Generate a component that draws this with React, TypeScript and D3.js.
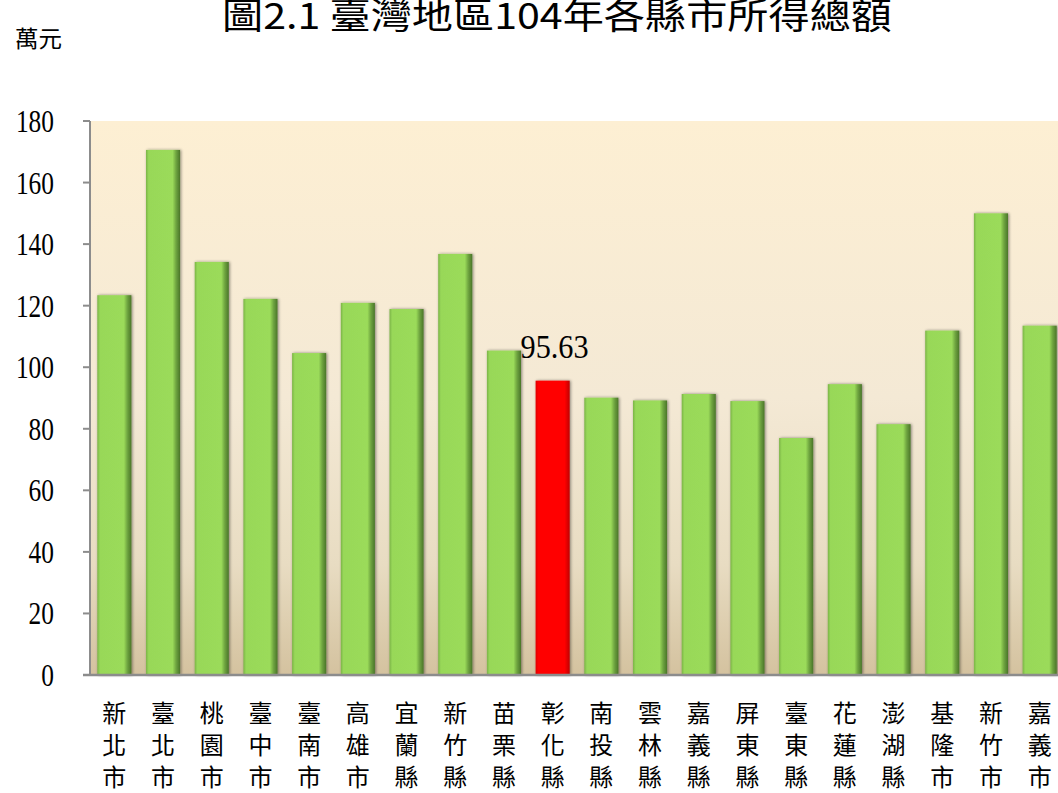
import React from "react";
import * as d3 from "d3";

const categories = [
  "新北市", "臺北市", "桃園市", "臺中市", "臺南市", "高雄市", "宜蘭縣", "新竹縣", "苗栗縣", "彰化縣",
  "南投縣", "雲林縣", "嘉義縣", "屏東縣", "臺東縣", "花蓮縣", "澎湖縣", "基隆市", "新竹市", "嘉義市",
];
const values = [
  123.4, 170.6, 134.2, 122.2, 104.6, 120.9, 118.9, 136.8, 105.4, 95.63,
  90.1, 89.2, 91.3, 89.0, 77.0, 94.5, 81.5, 111.9, 150.0, 113.5,
];
const highlight = "彰化縣";
const yTicks = [0, 20, 40, 60, 80, 100, 120, 140, 160, 180];
const title = "圖2.1 臺灣地區104年各縣市所得總額";
const unit = "萬元";

const W = 1058;
const H = 793;
const left = 90;
const top = 121;
const bottom = 675;
const step = 48.7;

export default function App() {
  const x = d3
    .scaleBand<string>()
    .domain(categories)
    .range([left, left + step * categories.length])
    .paddingInner(0.3)
    .paddingOuter(0.15);
  const y = d3.scaleLinear().domain([0, 180]).range([bottom, top]);
  const serif = "'Liberation Serif', 'DejaVu Serif', serif";
  const cjk = "'Noto Sans CJK TC', 'Noto Sans CJK JP', sans-serif";

  return (
    <svg
      width={W}
      height={H}
      style={{ position: "absolute", left: 0, top: 0, background: "#fff" }}
    >
      <defs>
        <linearGradient id="bg" x1="0" y1="0" x2="0" y2="1">
          <stop offset="0%" stopColor="#FDEFD3" />
          <stop offset="50%" stopColor="#F4E9D5" />
          <stop offset="80%" stopColor="#E8DCC2" />
          <stop offset="100%" stopColor="#D4C29F" />
        </linearGradient>
        <linearGradient id="green" x1="0" y1="0" x2="1" y2="0">
          <stop offset="0%" stopColor="#7BB447" />
          <stop offset="8%" stopColor="#98D859" />
          <stop offset="78%" stopColor="#9BDB5A" />
          <stop offset="88%" stopColor="#6FA540" />
          <stop offset="100%" stopColor="#4A7529" />
        </linearGradient>
        <linearGradient id="red" x1="0" y1="0" x2="1" y2="0">
          <stop offset="0%" stopColor="#E00000" />
          <stop offset="8%" stopColor="#FF0000" />
          <stop offset="85%" stopColor="#FF0000" />
          <stop offset="100%" stopColor="#C00000" />
        </linearGradient>
        <filter id="shadow" x="-20%" y="-5%" width="140%" height="110%">
          <feGaussianBlur in="SourceAlpha" stdDeviation="1.5" />
          <feOffset dx="1" dy="0" result="b" />
          <feComponentTransfer>
            <feFuncA type="linear" slope="0.45" />
          </feComponentTransfer>
          <feMerge>
            <feMergeNode />
            <feMergeNode in="SourceGraphic" />
          </feMerge>
        </filter>
      </defs>

      <text
        x={222}
        y={29}
        fontFamily={cjk}
        fontSize={36}
        textLength={670}
        lengthAdjust="spacingAndGlyphs"
        fill="#000"
      >
        {title}
      </text>
      <text
        x={15}
        y={47}
        fontFamily={cjk}
        fontSize={23}
        textLength={47}
        lengthAdjust="spacingAndGlyphs"
        fill="#000"
      >
        {unit}
      </text>

      <rect x={left + 1} y={top} width={W - left} height={bottom - top} fill="url(#bg)" />

      {categories.map((c, i) => {
        const v = values[i];
        const bx = x(c)!;
        const isH = c === highlight;
        return (
          <rect
            key={c}
            x={bx}
            y={y(v)}
            width={x.bandwidth()}
            height={bottom - y(v)}
            fill={isH ? "url(#red)" : "url(#green)"}
            filter="url(#shadow)"
          />
        );
      })}

      {categories.map((c, i) =>
        c === highlight ? (
          <text
            key={"lbl" + c}
            x={x(c)! - 15}
            y={y(values[i]) - 23}
            fontFamily={serif}
            fontSize={33}
            textLength={68}
            lengthAdjust="spacingAndGlyphs"
            fill="#000"
          >
            {values[i].toFixed(2)}
          </text>
        ) : null
      )}

      <line x1={left} x2={left} y1={top} y2={bottom} stroke="#8C8C8C" strokeWidth={2} />
      <line x1={left - 7} x2={W} y1={bottom} y2={bottom} stroke="#8C8C8C" strokeWidth={2.5} />
      {yTicks.map((t) => (
        <g key={t}>
          <line x1={left - 7} x2={left} y1={y(t)} y2={y(t)} stroke="#8C8C8C" strokeWidth={2} />
          <text
            x={54}
            y={y(t) + 11}
            textAnchor="end"
            fontFamily={serif}
            fontSize={32}
            textLength={String(t).length * 12.7}
            lengthAdjust="spacingAndGlyphs"
            fill="#000"
          >
            {t}
          </text>
        </g>
      ))}

      {categories.map((c) => {
        const cx = x(c)! + x.bandwidth() / 2;
        return (
          <g key={"x" + c}>
            {Array.from(c).map((ch, j) => (
              <text
                key={j}
                x={cx}
                y={722 + j * 32}
                textAnchor="middle"
                fontFamily={cjk}
                fontSize={24}
                fill="#000"
              >
                {ch}
              </text>
            ))}
          </g>
        );
      })}
    </svg>
  );
}
